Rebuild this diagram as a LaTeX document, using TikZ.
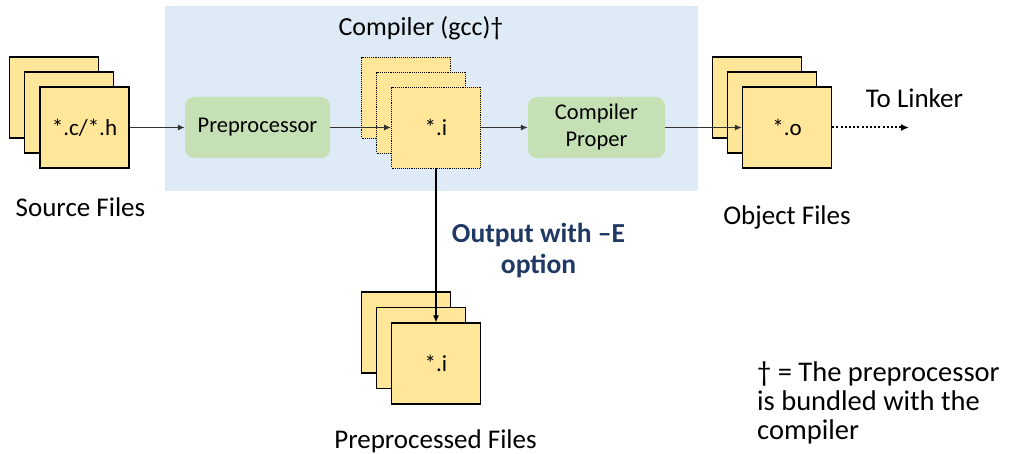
\documentclass[tikz,border=0pt]{standalone}
\usepackage{fontspec}
\setmainfont{Carlito}
\usetikzlibrary{arrows.meta}

\definecolor{fileyellow}{HTML}{FFE699}
\definecolor{stagegreen}{HTML}{C5E0B4}
\definecolor{compilerblue}{HTML}{DEEAF6}
\definecolor{notenavy}{HTML}{1F3864}
\definecolor{edgegray}{HTML}{333333}

\tikzset{
  filebox/.style={draw=black, line width=1.2pt, fill=fileyellow, minimum width=89pt,
                  minimum height=81pt, inner sep=0pt, font=\fontsize{23}{27}\selectfont},
  tempfile/.style={filebox, line width=0.9pt, densely dotted},
  stagebox/.style={fill=stagegreen, rounded corners=9pt, minimum height=61pt,
                   inner sep=0pt, align=center, font=\fontsize{22.5}{27}\selectfont},
  caption/.style={font=\fontsize{27}{32}\selectfont, inner sep=0pt, anchor=base},
  flow/.style={draw=edgegray, line width=1.1pt, -{Latex[length=7pt,width=6pt]}},
}

\begin{document}
\begin{tikzpicture}[x=1pt,y=-1pt]
\useasboundingbox (0,0) rectangle (1016,454);

% compiler region
\fill[compilerblue] (165,6) rectangle (698,191);
\node[caption, font=\fontsize{26}{30}\selectfont] (title) at (421,36) {Compiler (gcc)†};

% source files
\node[filebox] (src3) at (54,97.5) {};
\node[filebox] (src2) at (69,112.5) {};
\node[filebox] (src1) at (84.5,127.5) {*.c/*.h};
\node[caption] (srclbl) at (80.5,217) {Source Files};

% preprocessor stage
\node[stagebox, minimum width=145pt] (pp) at (257.5,127.5) {Preprocessor};

% intermediate *.i files
\node[tempfile] (ii3) at (406,97.5) {};
\node[tempfile] (ii2) at (421,112.5) {};
\node[tempfile] (ii1) at (436,127.5) {*.i};

% compiler proper stage
\node[stagebox, minimum width=137pt] (cp) at (596.5,127.5) {Compiler\\Proper};

% object files
\node[filebox] (obj3) at (757,97.5) {};
\node[filebox] (obj2) at (772,112.5) {};
\node[filebox] (obj1) at (787,127.5) {*.o};
\node[caption] (objlbl) at (787,225) {Object Files};

\coordinate (linker) at (909,127.5);
\node[caption] (linklbl) at (914.5,108) {To Linker};

% preprocessed output files
\node[filebox] (pre3) at (406,332.5) {};
\node[filebox] (pre2) at (421,348) {};
\node[filebox] (pre1) at (436,363.5) {*.i};
\node[caption] (prelbl) at (435.5,448) {Preprocessed Files};

% connectors
\draw[flow] (src1.east) -- (pp.west);
\draw[flow] (pp.east) -- (ii1.west);
\draw[flow] (ii1.east) -- (cp.west);
\draw[flow] (cp.east) -- (obj1.west);
\draw[draw=black, line width=2pt, dash pattern=on 2pt off 2.2pt,
      -{Latex[length=8pt,width=7pt]}] (obj1.east) -- (linker);
\draw[flow, draw=black] (ii1.south) -- (pre1.north);

% option note (base anchor sits on the last line)
\node[font=\fontsize{27.5}{31}\selectfont\bfseries, text=notenavy, align=center,
      inner sep=0pt, anchor=base] (optlbl) at (538.5,273) {Output with –E\\option};

% footnote
\node[font=\fontsize{28.5}{29}\selectfont, align=left, inner sep=0pt,
      anchor=north west] (note) at (757,361)
  {† = The preprocessor\\is bundled with the\\compiler};
\end{tikzpicture}
\end{document}
